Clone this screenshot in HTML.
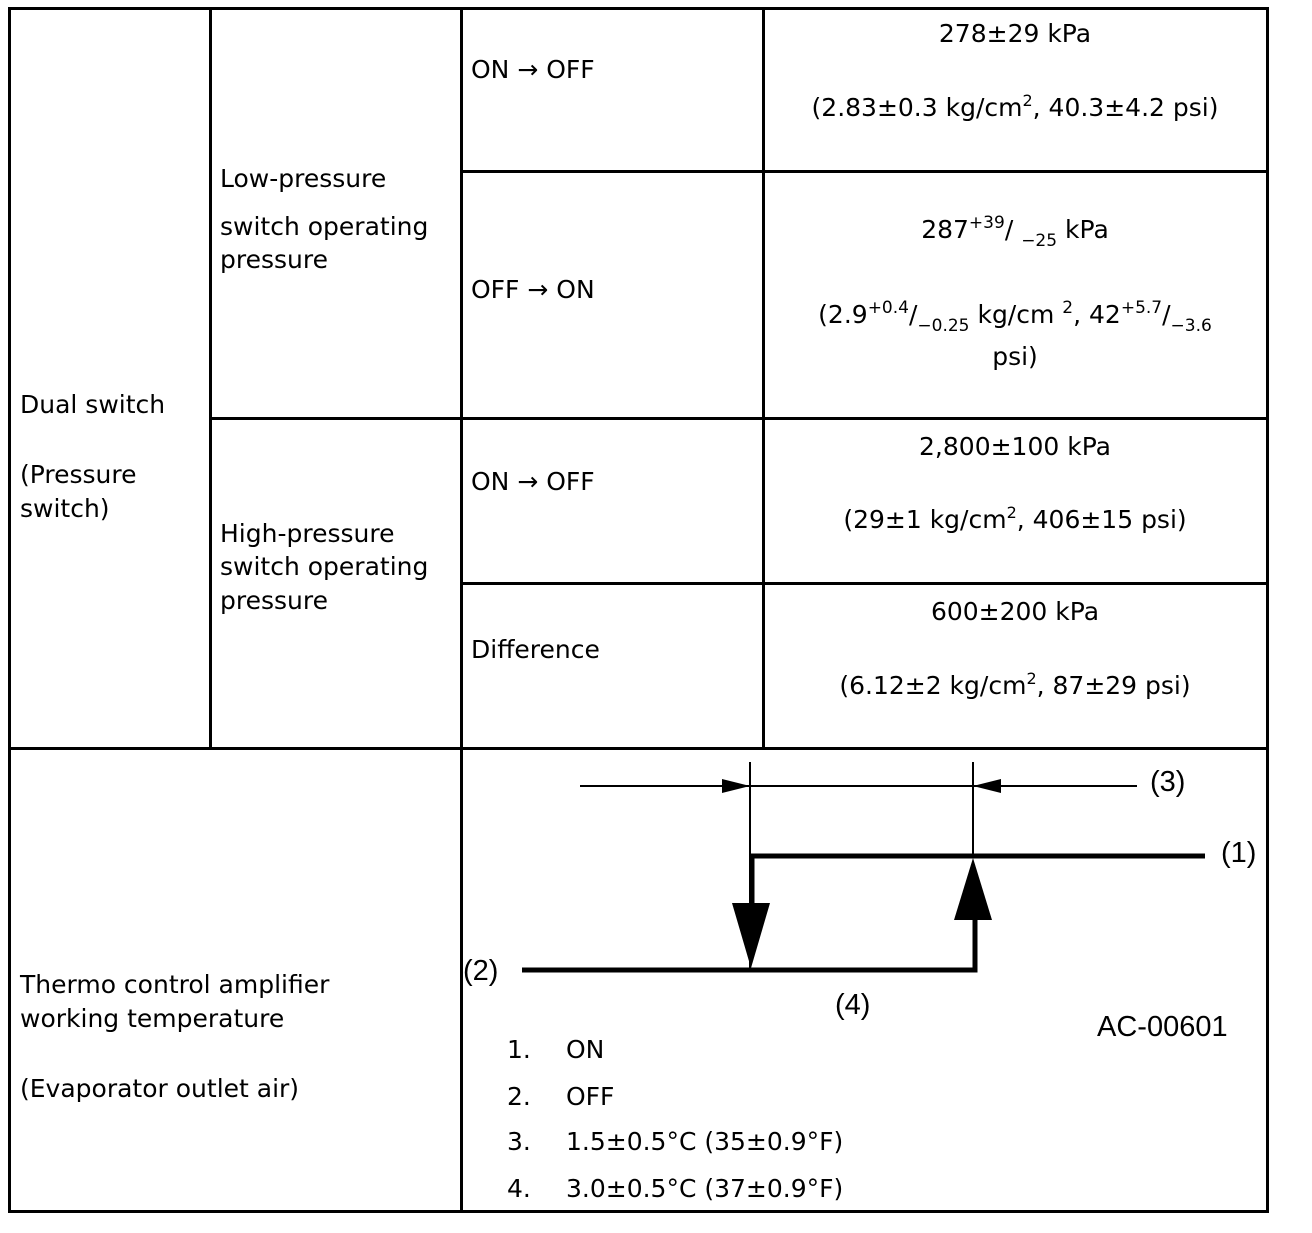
<!DOCTYPE html>
<html><head><meta charset="utf-8"><style>
html,body{margin:0;padding:0;background:#fff;}
svg text{font-family:"DejaVu Sans","Liberation Sans",sans-serif;font-size:25px;fill:#000;}
svg .a{font-family:"Liberation Sans",Arial,sans-serif;font-size:29px;}
</style></head><body>
<svg width="1312" height="1228" viewBox="0 0 1312 1228" xmlns="http://www.w3.org/2000/svg">
<g stroke="#000" stroke-width="3" fill="none">
<rect x="9.5" y="8.5" width="1258" height="1203"/>
<line x1="210.5" y1="8" x2="210.5" y2="748"/>
<line x1="461.5" y1="8" x2="461.5" y2="1212"/>
<line x1="763.5" y1="8" x2="763.5" y2="748"/>
<line x1="461" y1="171.5" x2="1268" y2="171.5"/>
<line x1="210" y1="418.5" x2="1268" y2="418.5"/>
<line x1="461" y1="583.5" x2="1268" y2="583.5"/>
<line x1="9" y1="748.5" x2="1268" y2="748.5"/>
</g>
<text x="1015" y="42" text-anchor="middle">278±29 kPa</text>
<text x="1015" y="116" text-anchor="middle">(2.83±0.3 kg/cm<tspan font-size="16" dy="-10">2</tspan><tspan dy="10">, 40.3±4.2 psi)</tspan></text>
<text x="471" y="78">ON → OFF</text>
<text x="220" y="187">Low-pressure</text>
<text x="220" y="235">switch operating</text>
<text x="220" y="268">pressure</text>
<text x="471" y="298">OFF → ON</text>
<text x="1015" y="238" text-anchor="middle">287<tspan font-size="17" dy="-10">+39</tspan><tspan dy="10">/ </tspan><tspan font-size="17" dy="8">−25</tspan><tspan dy="-8"> kPa</tspan></text>
<text x="1015" y="323" text-anchor="middle">(2.9<tspan font-size="17" dy="-10">+0.4</tspan><tspan dy="10">/</tspan><tspan font-size="17" dy="8">−0.25</tspan><tspan dy="-8"> kg/cm </tspan><tspan font-size="17" dy="-10">2</tspan><tspan dy="10">, 42</tspan><tspan font-size="17" dy="-10">+5.7</tspan><tspan dy="10">/</tspan><tspan font-size="17" dy="8">−3.6</tspan></text>
<text x="1015" y="365" text-anchor="middle">psi)</text>
<text x="20" y="413">Dual switch</text>
<text x="20" y="483">(Pressure</text>
<text x="20" y="517">switch)</text>
<text x="1015" y="455" text-anchor="middle">2,800±100 kPa</text>
<text x="471" y="490">ON → OFF</text>
<text x="1015" y="528" text-anchor="middle">(29±1 kg/cm<tspan font-size="16" dy="-10">2</tspan><tspan dy="10">, 406±15 psi)</tspan></text>
<text x="220" y="542">High-pressure</text>
<text x="220" y="575">switch operating</text>
<text x="220" y="609">pressure</text>
<text x="1015" y="620" text-anchor="middle">600±200 kPa</text>
<text x="471" y="658">Difference</text>
<text x="1015" y="694" text-anchor="middle">(6.12±2 kg/cm<tspan font-size="16" dy="-10">2</tspan><tspan dy="10">, 87±29 psi)</tspan></text>
<text x="20" y="993">Thermo control amplifier</text>
<text x="20" y="1027">working temperature</text>
<text x="20" y="1097">(Evaporator outlet air)</text>
<!-- diagram -->
<g stroke="#000" fill="none">
<line x1="750" y1="762" x2="750" y2="968" stroke-width="2"/>
<line x1="973" y1="762" x2="973" y2="855" stroke-width="2"/>
<line x1="580" y1="786" x2="1137" y2="786" stroke-width="2"/>
<polyline points="752,905 752,856 1205,856" stroke-width="5"/>
<polyline points="522,970 975,970 975,918" stroke-width="5"/>
</g>
<g fill="#000">
<polygon points="750,786 722,779 722,793"/>
<polygon points="973,786 1001,779 1001,793"/>
<polygon points="732,903 770,903 751,968"/>
<polygon points="954,920 992,920 973,858"/>
</g>
<text class="a" x="1150" y="791">(3)</text>
<text class="a" x="1221" y="862">(1)</text>
<text class="a" x="463" y="980">(2)</text>
<text class="a" x="835" y="1014">(4)</text>
<text class="a" x="1097" y="1036">AC-00601</text>
<text x="507" y="1058">1.</text><text x="566" y="1058">ON</text>
<text x="507" y="1105">2.</text><text x="566" y="1105">OFF</text>
<text x="507" y="1150">3.</text><text x="566" y="1150">1.5±0.5°C (35±0.9°F)</text>
<text x="507" y="1197">4.</text><text x="566" y="1197">3.0±0.5°C (37±0.9°F)</text>
</svg>
</body></html>
